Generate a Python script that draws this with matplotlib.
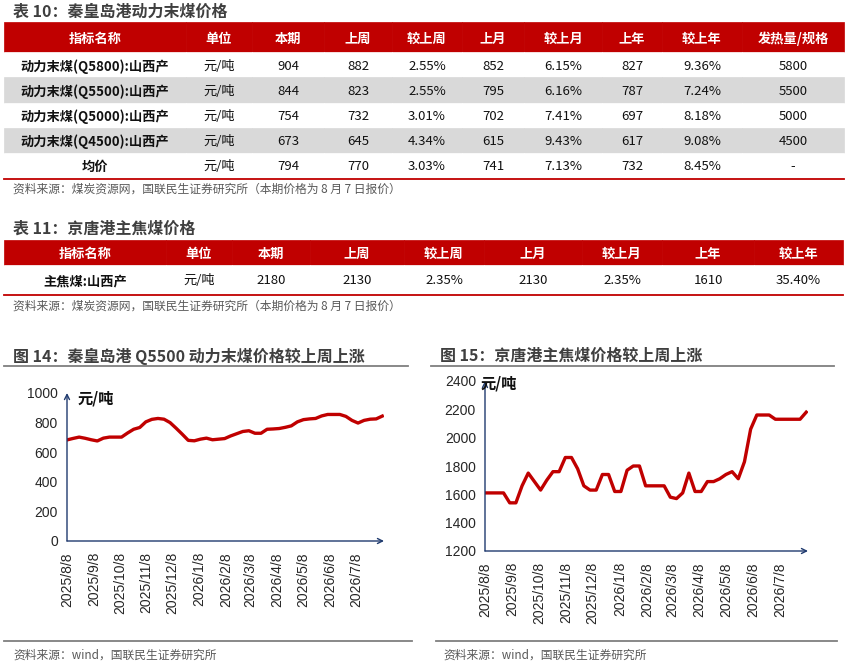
import numpy as np
import pandas as pd
import matplotlib
matplotlib.use('Agg')
import matplotlib.pyplot as plt

plt.rcParams['font.family'] = ['Noto Sans CJK SC', 'DejaVu Sans']

W, H = 851, 670
RED = '#C00000'
ROW_GRAY = '#D9D9D9'
NAVY = '#1F3A6E'
TITLE_C = '#3F3F3F'
SRC_C = '#595959'
NUM_FONT = ['Liberation Sans', 'DejaVu Sans']

# ---- table 10: 秦皇岛港动力末煤价格
t10_header = ['指标名称', '单位', '本期', '上周', '较上周', '上月', '较上月', '上年', '较上年', '发热量/规格']
t10_names = ['动力末煤(Q5800):山西产', '动力末煤(Q5500):山西产', '动力末煤(Q5000):山西产',
             '动力末煤(Q4500):山西产', '均价']
t10_unit = ['元/吨'] * 5
t10_now = [904, 844, 754, 673, 794]
t10_last_week = [882, 823, 732, 645, 770]
t10_wow = ['2.55%', '2.55%', '3.01%', '4.34%', '3.03%']
t10_last_month = [852, 795, 702, 615, 741]
t10_mom = ['6.15%', '6.16%', '7.41%', '9.43%', '7.13%']
t10_last_year = [827, 787, 697, 617, 732]
t10_yoy = ['9.36%', '7.24%', '8.18%', '9.08%', '8.45%']
t10_spec = ['5800', '5500', '5000', '4500', '-']

# ---- table 11: 京唐港主焦煤价格
t11_header = ['指标名称', '单位', '本期', '上周', '较上周', '上月', '较上月', '上年', '较上年']
t11_row = ['主焦煤:山西产', '元/吨', '2180', '2130', '2.35%', '2130', '2.35%', '1610', '35.40%']

src_table = '资料来源：煤炭资源网，国联民生证券研究所（本期价格为 8 月 7 日报价）'
src_chart = '资料来源：wind，国联民生证券研究所'

# ---- weekly series, 2025/8/8 .. 2026/8/7
weeks = pd.date_range('2025-08-08', periods=53, freq='7D')
qhd_q5500 = [683, 693, 702, 694, 684, 676, 695, 702, 702, 702,
             730, 755, 767, 805, 822, 828, 823, 800, 762, 722,
             680, 677, 688, 695, 684, 688, 692, 710, 725, 740,
             745, 728, 728, 755, 757, 760, 768, 778, 805, 820,
             825, 828, 845, 855, 855, 855, 842, 815, 797, 815,
             823, 825, 844]
jt_coking = [1610, 1610, 1610, 1610, 1540, 1540, 1660, 1750, 1690, 1630,
             1700, 1760, 1760, 1860, 1860, 1780, 1660, 1630, 1630, 1740,
             1740, 1620, 1620, 1770, 1800, 1800, 1660, 1660, 1660, 1660,
             1580, 1570, 1610, 1750, 1620, 1620, 1690, 1690, 1710, 1740,
             1760, 1710, 1830, 2060, 2160, 2160, 2160, 2130, 2130, 2130,
             2130, 2130, 2180]
date_ticks = ['2025/8/8', '2025/9/8', '2025/10/8', '2025/11/8', '2025/12/8', '2026/1/8',
              '2026/2/8', '2026/3/8', '2026/4/8', '2026/5/8', '2026/6/8', '2026/7/8']
left_yticks = [0, 200, 400, 600, 800, 1000]
right_yticks = [1200, 1400, 1600, 1800, 2000, 2200, 2400]


def box(l, t, r, b):
    return [l / W, 1 - b / H, (r - l) / W, (b - t) / H]


fig = plt.figure(figsize=(W / 100, H / 100), dpi=100)
bg = fig.add_axes([0, 0, 1, 1])
bg.set_xlim(0, W)
bg.set_ylim(H, 0)
bg.axis('off')


def draw_table(header, rows, col_w, bounds, head_h, row_h, gray_rows=()):
    tbl = bg.table(cellText=rows, colLabels=header, colWidths=col_w,
                   cellLoc='center', bbox=box(*bounds))
    tbl.auto_set_font_size(False)
    tbl.set_fontsize(9.5)
    for (r, c), cell in tbl.get_celld().items():
        txt = cell.get_text()
        txt.set_va('center_baseline')
        if r == 0:
            cell.set_facecolor(RED)
            cell.set_edgecolor(RED)
            cell.set_height(head_h)
            txt.set_color('white')
            txt.set_fontweight('bold')
        else:
            col = ROW_GRAY if (r - 1) in gray_rows else 'white'
            cell.set_facecolor(col)
            cell.set_edgecolor(col)
            cell.set_height(row_h)
            txt.set_color('#111111')
            if c == 0:
                txt.set_fontweight('bold')
        cell.set_linewidth(0.5)
    return tbl


# table 10
bg.text(13, 12, '表 10：秦皇岛港动力末煤价格', fontsize=11.5, fontweight='bold',
        color=TITLE_C, va='center')
rows10 = [[t10_names[i], t10_unit[i], t10_now[i], t10_last_week[i], t10_wow[i],
           t10_last_month[i], t10_mom[i], t10_last_year[i], t10_yoy[i], t10_spec[i]]
          for i in range(len(t10_names))]
draw_table(t10_header, rows10, [182, 66, 72, 68, 70, 62, 78, 60, 80, 102],
           (4, 22, 844, 178), 30, 25, gray_rows=(1, 3))
bg.plot([4, 844], [178.5, 178.5], color=RED, lw=1.3)
bg.text(13, 189, src_table, fontsize=8.5, color=SRC_C, va='center')

# table 11
bg.text(13, 229, '表 11：京唐港主焦煤价格', fontsize=11.5, fontweight='bold',
        color=TITLE_C, va='center')
draw_table(t11_header, [t11_row], [162, 66, 78, 94, 80, 98, 80, 92, 89],
           (4, 240, 843, 294), 25, 29)
bg.plot([4, 843], [294.5, 294.5], color=RED, lw=1.3)
bg.text(13, 306, src_table, fontsize=8.5, color=SRC_C, va='center')

# chart titles, rules, sources
bg.text(13, 356, '图 14：秦皇岛港 Q5500 动力末煤价格较上周上涨', fontsize=11.5,
        fontweight='bold', color=TITLE_C, va='center')
bg.text(440, 356, '图 15：京唐港主焦煤价格较上周上涨', fontsize=11.5,
        fontweight='bold', color=TITLE_C, va='center')
bg.plot([4, 408], [366, 366], color='#7F7F7F', lw=1.3)
bg.plot([431, 834], [366, 366], color='#7F7F7F', lw=1.3)
bg.plot([4, 412], [641, 641], color='#7F7F7F', lw=1.3)
bg.plot([436, 837], [641, 641], color='#7F7F7F', lw=1.3)
bg.text(13, 655, src_chart, fontsize=8.5, color=SRC_C, va='center')
bg.text(443, 655, src_chart, fontsize=8.5, color=SRC_C, va='center')


def line_chart(rect, series, yticks, unit_xy):
    ax = fig.add_axes(box(*rect))
    ax.plot(weeks, series, color=RED, lw=2.4, solid_joinstyle='round', zorder=3)
    ax.set_ylim(yticks[0], yticks[-1])
    ax.set_yticks(yticks)
    ax.set_xlim(weeks[0], weeks[-1] + pd.Timedelta(days=2))
    ax.set_xticks(pd.to_datetime(date_ticks, format='%Y/%m/%d'))
    ax.set_xticklabels(date_ticks, rotation=90)
    for s in ax.spines.values():
        s.set_visible(False)
    ax.patch.set_alpha(0)
    ax.tick_params(length=0, labelsize=10, labelcolor='#262626',
                   labelfontfamily=NUM_FONT)
    ax.tick_params(axis='y', pad=6.5)
    ax.tick_params(axis='x', pad=8, labelsize=10)
    arrow = dict(arrowstyle='->', color=NAVY, lw=1.0, shrinkA=0, shrinkB=0,
                 mutation_scale=9)
    ax.annotate('', xy=(1, 0), xytext=(0, 0), xycoords='axes fraction', arrowprops=arrow)
    ax.annotate('', xy=(0, 1), xytext=(0, 0), xycoords='axes fraction', arrowprops=arrow)
    ax.text(unit_xy[0], unit_xy[1], '元/吨', transform=ax.transAxes, fontsize=11,
            fontweight='bold', color='#111111', va='center', ha='left')
    return ax


line_chart((67, 393, 384, 541), qhd_q5500, left_yticks, (0.032, 0.966))
line_chart((485, 381, 808, 551), jt_coking, right_yticks, (-0.015, 0.988))

fig.savefig('out.png', dpi=100)
